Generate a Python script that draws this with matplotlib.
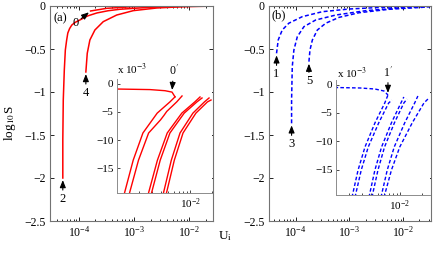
import matplotlib
matplotlib.use('Agg')
import matplotlib.pyplot as plt
import numpy as np
from matplotlib.ticker import LogLocator, FixedLocator, FixedFormatter, NullFormatter

plt.rcParams['font.family'] = ['Liberation Serif', 'DejaVu Serif']
plt.rcParams['mathtext.fontset'] = 'stix'

# ---------------- data ----------------
main_yticks = [0, -0.5, -1, -1.5, -2, -2.5]
main_yticklabels = ['0', '\u22120.5', '\u22121', '\u22121.5', '\u22122', '\u22122.5']
inset_yticks = [0, -5, -10, -15]
inset_yticklabels = ['0', '\u22125', '\u221210', '\u221215']

# panel (a): main curves (log10 S)
a_c2_x = [5.12e-5, 5.12e-5, 5.22e-5, 5.45e-5, 5.69e-5, 6.0e-5, 6.31e-5, 6.8e-5, 7.46e-5, 8.6e-5, 1.04e-4, 1.45e-4, 2.12e-4, 3.4e-4, 5.56e-4, 1.95e-3, 1.04e-2, 2.0e-2]
a_c2_y = [-2.0, -1.558, -1.093, -0.744, -0.512, -0.40, -0.314, -0.262, -0.221, -0.19, -0.163, -0.115, -0.081, -0.055, -0.038, -0.015, -0.0035, -0.002]
a_c4_x = [1.34e-4, 1.42e-4, 1.585e-4, 1.954e-4, 2.77e-4, 4.85e-4, 9.70e-4, 2.59e-3, 7.87e-3, 1.95e-2]
a_c4_y = [-0.767, -0.55, -0.395, -0.279, -0.182, -0.105, -0.054, -0.023, -0.008, -0.003]
a_c0_x = [1.63e-4, 3.19e-4, 9.59e-4, 4.52e-3, 2.0e-2]
a_c0_y = [-0.058, -0.027, -0.008, -0.003, -0.001]
a_flat_x = [3.0e-5, 1.0e-3, 2.83e-3, 4.55e-3, 5.67e-3, 6.23e-3]
a_flat_y = [-0.9, -0.9, -1.0, -1.2, -1.45, -2.3]          # x 10^-3

# panel (a): inset curves (y in units of 10^-3)
a_i1_x = [1.247e-3, 1.667e-3, 2.264e-3, 3.553e-3, 5.304e-3, 6.231e-3]
a_i1_y = [-19.8, -13.6, -8.75, -5.2, -3.2, -2.3]
a_i2_x = [1.460e-3, 1.970e-3, 2.710e-3, 3.95e-3, 4.40e-3, 4.80e-3, 6.574e-3, 7.771e-3]
a_i2_y = [-19.8, -13.6, -8.75, -6.4, -5.6, -4.9, -3.2, -2.14]
a_i3_x = [2.659e-3, 3.576e-3, 4.873e-3, 7.723e-3, 1.163e-2, 1.371e-2]
a_i3_y = [-19.8, -13.6, -8.75, -5.2, -3.2, -2.32]
a_i4_x = [2.923e-3, 3.907e-3, 5.305e-3, 8.326e-3, 1.243e-2, 1.460e-2]
a_i4_y = [-19.8, -13.6, -8.75, -5.2, -3.2, -2.5]
a_i5_x = [4.266e-3, 5.544e-3, 7.295e-3, 1.096e-2, 1.575e-2, 1.821e-2]
a_i5_y = [-19.8, -13.6, -8.75, -5.2, -3.2, -2.5]
a_i6_x = [4.691e-3, 6.095e-3, 8.018e-3, 1.204e-2, 1.731e-2, 1.940e-2]
a_i6_y = [-19.8, -13.6, -8.75, -5.2, -3.2, -2.86]

# panel (b): main curves
b_c1_x = [4.42e-5, 4.75e-5, 5.64e-5, 7.49e-5, 1.33e-4, 3.15e-4, 9.91e-4, 4.18e-3, 1.75e-2, 3.0e-2]
b_c1_y = [-0.55, -0.395, -0.279, -0.2, -0.124, -0.066, -0.035, -0.015, -0.0035, -0.001]
b_c3_x = [8.42e-5, 8.42e-5, 8.67e-5, 9.29e-5, 1.076e-4, 1.43e-4, 2.36e-4, 5.6e-4, 2.03e-3, 8.53e-3, 3.0e-2]
b_c3_y = [-1.364, -1.093, -0.705, -0.512, -0.357, -0.24, -0.163, -0.105, -0.054, -0.023, -0.008]
b_c5_x = [1.77e-4, 1.85e-4, 2.05e-4, 2.54e-4, 3.64e-4, 6.45e-4, 1.52e-3, 5.54e-3, 2.33e-2, 3.2e-2]
b_c5_y = [-0.647, -0.512, -0.395, -0.279, -0.2, -0.132, -0.078, -0.038, -0.015, -0.006]
b_flat_x = [3.2e-5, 1.33e-3, 2.83e-3, 4.54e-3, 6.04e-3, 6.85e-3]
b_flat_y = [-0.5, -0.53, -0.61, -0.79, -1.14, -1.84]      # x 10^-3

# panel (b): inset curves (y in units of 10^-3)
b_i1_x = [2.20e-3, 2.67e-3, 3.32e-3, 4.54e-3, 6.19e-3, 6.85e-3]
b_i1_y = [-19.8, -15.0, -10.96, -6.75, -3.25, -1.84]
b_i2_x = [2.42e-3, 2.95e-3, 3.68e-3, 5.11e-3, 7.00e-3, 7.77e-3]
b_i2_y = [-19.8, -15.0, -10.96, -6.75, -3.25, -2.72]
b_i3_x = [3.76e-3, 4.54e-3, 5.60e-3, 7.63e-3, 1.03e-2, 1.13e-2]
b_i3_y = [-19.8, -15.0, -10.96, -6.75, -3.25, -2.19]
b_i4_x = [4.13e-3, 5.00e-3, 6.15e-3, 8.38e-3, 1.13e-2, 1.25e-2]
b_i4_y = [-19.8, -15.0, -10.96, -6.75, -3.25, -2.54]
b_i5_x = [5.49e-3, 6.70e-3, 8.35e-3, 1.16e-2, 1.59e-2, 1.76e-2]
b_i5_y = [-19.8, -15.0, -10.96, -6.75, -3.25, -2.02]
b_i6_x = [6.04e-3, 7.65e-3, 9.94e-3, 1.47e-2, 2.13e-2, 2.42e-2]
b_i6_y = [-19.8, -15.0, -10.96, -6.75, -3.25, -2.54]

# ---------------- figure ----------------
W, H = 436, 259
fig = plt.figure(figsize=(W / 100, H / 100), dpi=100)

def fbox(x0, x1, ytop, ybot):
    return [x0 / W, 1 - ybot / H, (x1 - x0) / W, (ybot - ytop) / H]

RED = '#ff0000'
BLUE = '#0000ff'
SPINE = '0.45'
DASH = (0, (2.6, 1.6))

def style_main(ax, xlim):
    ax.set_xscale('log')
    ax.set_xlim(*xlim)
    ax.set_ylim(-2.5, 0)
    ax.yaxis.set_major_locator(FixedLocator(main_yticks))
    ax.yaxis.set_major_formatter(FixedFormatter(main_yticklabels))
    ax.xaxis.set_major_locator(LogLocator(base=10, numticks=10))
    ax.xaxis.set_minor_locator(LogLocator(base=10, subs=np.arange(2, 10), numticks=20))
    ax.xaxis.set_minor_formatter(NullFormatter())
    ax.tick_params(which='both', direction='in', top=True, right=True,
                   labelsize=8.5, colors='k', width=0.6, pad=3)
    ax.tick_params(which='major', length=3)
    ax.tick_params(which='minor', length=1.6)
    for s in ax.spines.values():
        s.set_color(SPINE)
        s.set_linewidth(0.8)

def style_inset(ax, xlim, ylim):
    ax.set_xscale('log')
    ax.set_xlim(*xlim)
    ax.set_ylim(*ylim)
    ax.yaxis.set_major_locator(FixedLocator(inset_yticks))
    ax.yaxis.set_major_formatter(FixedFormatter(inset_yticklabels))
    ax.xaxis.set_major_locator(FixedLocator([1e-2]))
    ax.xaxis.set_minor_locator(LogLocator(base=10, subs=np.arange(2, 10), numticks=20))
    ax.xaxis.set_minor_formatter(NullFormatter())
    ax.tick_params(which='both', direction='in', labelsize=8, width=0.5, pad=2.5)
    ax.tick_params(which='major', length=2.5)
    ax.tick_params(which='minor', length=1.3)
    ax.spines['top'].set_visible(False)
    ax.spines['right'].set_visible(False)
    for s in ('left', 'bottom'):
        ax.spines[s].set_color('0.55')
        ax.spines[s].set_linewidth(0.7)
    ax.set_facecolor('white')

def arrow_label(ax, text, x, y, dx, dy, fs=9):
    ax.annotate(text, xy=(x, y), xytext=(dx, dy), textcoords='offset points',
                ha='center', va='center', fontsize=fs,
                arrowprops=dict(arrowstyle='-|>,head_length=0.55,head_width=0.22',
                                color='k', lw=0.8, mutation_scale=8,
                                shrinkA=0, shrinkB=1.5))

# ---- panel (a) ----
axa = fig.add_axes(fbox(50, 213, 6, 221))
axa.plot(a_flat_x, np.array(a_flat_y) * 1e-3, color=RED, lw=1.1)
for xs, ys in [(a_c2_x, a_c2_y), (a_c4_x, a_c4_y), (a_c0_x, a_c0_y)]:
    axa.plot(xs, ys, color=RED, lw=1.1)
style_main(axa, (3.0e-5, 2.7e-2))
axa.text(0.02, 0.944, '(a)', transform=axa.transAxes, fontsize=9, va='center', ha='left')
arrow_label(axa, '2', a_c2_x[0], a_c2_y[0], 0, -15)
arrow_label(axa, '4', a_c4_x[0], a_c4_y[0], 0, -15)
arrow_label(axa, '0', a_c0_x[0], a_c0_y[0], -11, -9)

ia = fig.add_axes(fbox(117, 212, 79, 193))
ia.plot(a_flat_x, a_flat_y, color=RED, lw=1.0)
for xs, ys in [(a_i1_x, a_i1_y), (a_i2_x, a_i2_y), (a_i3_x, a_i3_y),
               (a_i4_x, a_i4_y), (a_i5_x, a_i5_y), (a_i6_x, a_i6_y)]:
    ia.plot(xs, ys, color=RED, lw=1.0)
style_inset(ia, (1.0e-3, 2.0e-2), (-19.46, 0.89))
ia.text(0.0, 1.08, 'x 10$^{-3}$', transform=ia.transAxes, fontsize=8, ha='left', va='center')
arrow_label(ia, "0$'$", a_flat_x[-2], a_flat_y[-2], 1, 15, fs=8.5)

# ---- panel (b) ----
axb = fig.add_axes(fbox(269, 431, 6, 221))
axb.plot(b_flat_x, np.array(b_flat_y) * 1e-3, color=BLUE, lw=1.1, linestyle=DASH)
for xs, ys in [(b_c1_x, b_c1_y), (b_c3_x, b_c3_y), (b_c5_x, b_c5_y)]:
    axb.plot(xs, ys, color=BLUE, lw=1.1, linestyle=DASH)
style_main(axb, (3.2e-5, 3.3e-2))
axb.text(0.015, 0.958, '(b)', transform=axb.transAxes, fontsize=9, va='center', ha='left')
arrow_label(axb, '1', b_c1_x[0], b_c1_y[0], 0, -15)
arrow_label(axb, '3', b_c3_x[0], b_c3_y[0], 0, -15)
arrow_label(axb, '5', b_c5_x[0], b_c5_y[0], 0, -14)

ib = fig.add_axes(fbox(336, 430, 80, 195))
ib.plot(b_flat_x, b_flat_y, color=BLUE, lw=1.0, linestyle=DASH)
for xs, ys in [(b_i1_x, b_i1_y), (b_i2_x, b_i2_y), (b_i3_x, b_i3_y),
               (b_i4_x, b_i4_y), (b_i5_x, b_i5_y), (b_i6_x, b_i6_y)]:
    ib.plot(xs, ys, color=BLUE, lw=1.0, linestyle=DASH)
style_inset(ib, (1.33e-3, 2.58e-2), (-19.39, 0.79))
ib.text(0.01, 1.06, 'x 10$^{-3}$', transform=ib.transAxes, fontsize=8, ha='left', va='center')
arrow_label(ib, "1$'$", b_flat_x[-1], b_flat_y[-1], 0, 16, fs=8.5)

# axis labels
fig.text(10 / W, 1 - 123 / H, 'log$_{10}$S', rotation=90, ha='center', va='center', fontsize=9.5)
fig.text(225 / W, 1 - 236 / H, 'U$_{\\mathrm{i}}$', ha='center', va='center', fontsize=9.5)

fig.savefig('out.png', dpi=100)
